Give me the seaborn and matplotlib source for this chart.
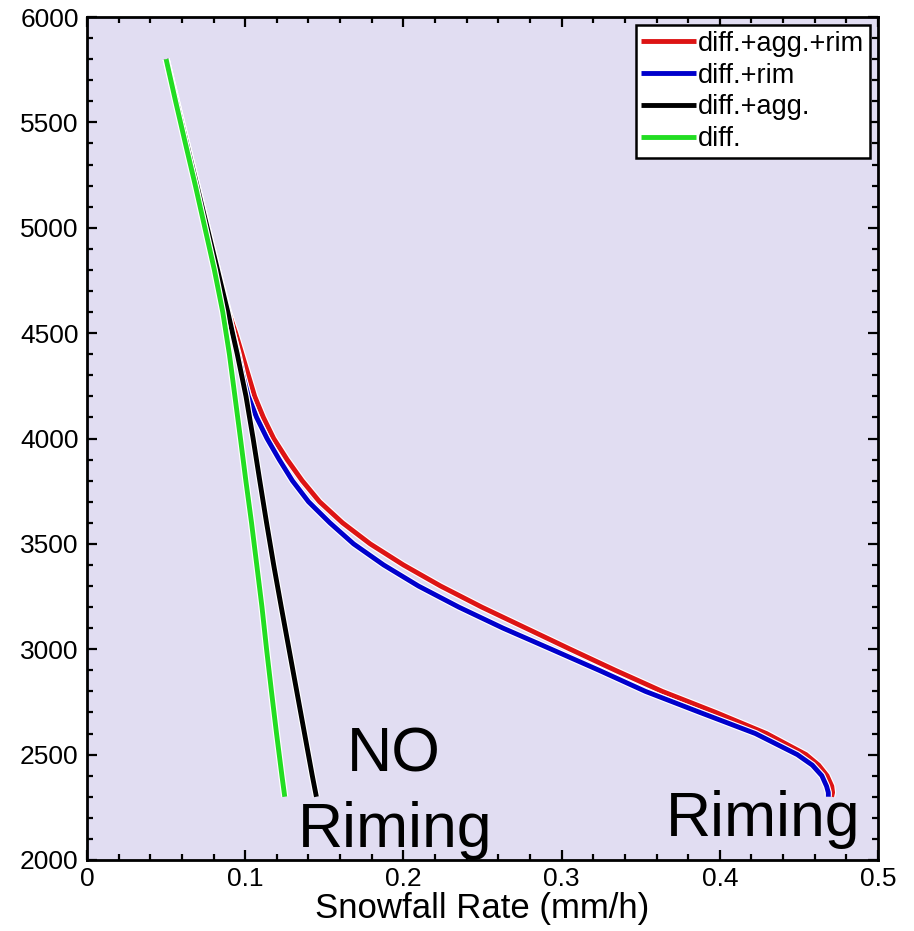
import numpy as np
import pandas as pd
import matplotlib
matplotlib.use("Agg")
import matplotlib.pyplot as plt
import matplotlib.patheffects as pe
from matplotlib.ticker import MultipleLocator
import seaborn as sns

# ---- data ----
# heights for the two schemes without riming (m)
heights_plain = [5800, 5600, 5400, 5200, 5000, 4800, 4600, 4400, 4200, 4000,
                 3800, 3600, 3400, 3200, 3000, 2800, 2600, 2400, 2300]
rate_diff_agg = [0.050, 0.0565, 0.063, 0.0695, 0.076, 0.0825, 0.089, 0.095, 0.1005, 0.105,
                 0.1092, 0.1135, 0.118, 0.1228, 0.1277, 0.1326, 0.1375, 0.1424, 0.145]
rate_diff = [0.050, 0.056, 0.0622, 0.0685, 0.0745, 0.0805, 0.0858, 0.090, 0.0935, 0.097,
             0.1004, 0.104, 0.1073, 0.1106, 0.1135, 0.1166, 0.1198, 0.1232, 0.125]

# heights for the two schemes with riming (m)
heights_rim = [5800, 5600, 5400, 5200, 5000, 4800, 4600, 4500, 4400, 4300,
               4200, 4100, 4000, 3900, 3800, 3700, 3600, 3500, 3400, 3300,
               3200, 3100, 3000, 2900, 2800, 2700, 2600, 2500, 2450, 2400,
               2350, 2320, 2300]
rate_diff_agg_rim = [0.050, 0.0565, 0.063, 0.0695, 0.076, 0.0825, 0.0895, 0.094, 0.098, 0.102,
                     0.106, 0.1115, 0.118, 0.1265, 0.136, 0.147, 0.1615, 0.179, 0.200, 0.2235,
                     0.2495, 0.2775, 0.3055, 0.334, 0.3636, 0.3975, 0.4295, 0.4545, 0.4625, 0.4678,
                     0.4708, 0.4713, 0.4707]
rate_diff_rim = [0.050, 0.0565, 0.063, 0.0695, 0.076, 0.0825, 0.089, 0.092, 0.0955, 0.0985,
                 0.102, 0.1072, 0.1138, 0.1215, 0.1298, 0.140, 0.1535, 0.1685, 0.1875, 0.2095,
                 0.235, 0.263, 0.2935, 0.3237, 0.353, 0.3875, 0.4225, 0.449, 0.4585, 0.4645,
                 0.4675, 0.4686, 0.4686]

series_labels = ["diff.+agg.+rim", "diff.+rim", "diff.+agg.", "diff."]
series_colors = ["#dd1414", "#0000cc", "#000000", "#22dd22"]

xtick_values = [0, 0.1, 0.2, 0.3, 0.4, 0.5]
xtick_labels = ["0", "0.1", "0.2", "0.3", "0.4", "0.5"]
ytick_values = [2000, 2500, 3000, 3500, 4000, 4500, 5000, 5500, 6000]
ytick_labels = ["2000", "2500", "3000", "3500", "4000", "4500", "5000", "5500", "6000"]

# ---- long-form table ----
parts = [
    (heights_rim, rate_diff_agg_rim, series_labels[0]),
    (heights_rim, rate_diff_rim, series_labels[1]),
    (heights_plain, rate_diff_agg, series_labels[2]),
    (heights_plain, rate_diff, series_labels[3]),
]
df = pd.concat(
    [pd.DataFrame({"height": h, "rate": r, "scheme": lab}) for h, r, lab in parts],
    ignore_index=True,
)

sns.set_theme(style="ticks")
plt.rcParams["font.family"] = ["Liberation Sans", "DejaVu Sans"]

fig = plt.figure(figsize=(9.14, 9.31), dpi=100)
ax = fig.add_axes([0.0952, 0.0763, 0.8654, 0.9054])
ax.set_facecolor("#e1ddf2")

sns.lineplot(data=df, x="rate", y="height", hue="scheme", hue_order=series_labels,
             palette=dict(zip(series_labels, series_colors)), estimator=None,
             sort=False, orient="y", linewidth=3.5, ax=ax)

for ln in ax.lines:
    ln.set_path_effects([pe.Stroke(linewidth=5.2, foreground="white"), pe.Normal()])
    ln.set_solid_capstyle("butt")
    ln.set_solid_joinstyle("round")

handles, labels = ax.get_legend_handles_labels()
leg = ax.legend(handles, labels, loc="upper right", fontsize=19.5, frameon=True,
                fancybox=False, edgecolor="black", facecolor="white", framealpha=1,
                borderaxespad=0.3, handlelength=2.0, handletextpad=0.1,
                labelspacing=0.22, borderpad=0.2)
leg.get_frame().set_linewidth(1.8)
for t in leg.get_texts():
    t.set_color("black")
for h in leg.get_lines():
    h.set_linewidth(3.5)
    h.set_path_effects([])

ax.set_xlim(0, 0.5)
ax.set_ylim(2000, 6000)
ax.set_xticks(xtick_values, xtick_labels)
ax.set_yticks(ytick_values, ytick_labels)
ax.xaxis.set_minor_locator(MultipleLocator(0.02))
ax.yaxis.set_minor_locator(MultipleLocator(100))
ax.tick_params(which="both", direction="in", top=True, right=True, width=1.6,
               color="black", labelsize=19, labelcolor="black")
ax.tick_params(which="major", length=7)
ax.tick_params(which="minor", length=4)
ax.tick_params(axis="y", pad=6)
ax.tick_params(axis="x", pad=5)
for sp in ax.spines.values():
    sp.set_linewidth(2)
    sp.set_color("black")

ax.set_xlabel("Snowfall Rate (mm/h)", fontsize=25, color="black", labelpad=1)
ax.set_ylabel("")

ax.text(0.194, 2419, "NO", ha="center", va="baseline", fontsize=45, color="black",
        clip_on=False, zorder=5)
ax.text(0.1947, 2062, "Riming", ha="center", va="baseline", fontsize=45, color="black",
        clip_on=False, zorder=5)
ax.text(0.4275, 2115, "Riming", ha="center", va="baseline", fontsize=45, color="black",
        clip_on=False, zorder=5)

fig.savefig("out.png", dpi=100, facecolor="white")
